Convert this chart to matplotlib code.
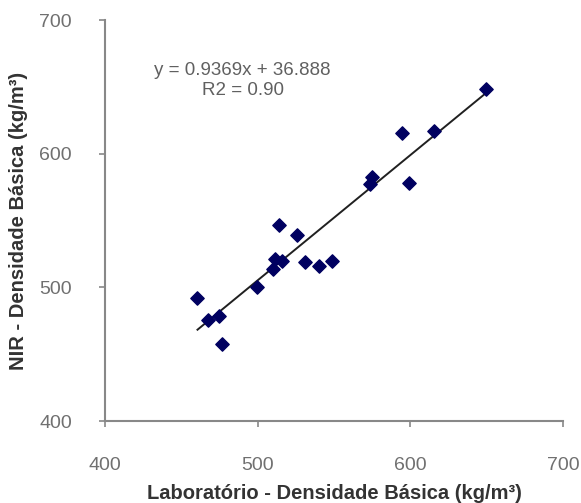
import numpy as np
import matplotlib
matplotlib.use("Agg")
import matplotlib.pyplot as plt

# valores (laboratório x NIR)
lab = [460.5, 467.7, 474.9, 476.5, 499.8, 510.3, 511.0, 513.6, 515.8,
       525.6, 531.0, 539.8, 548.6, 573.6, 574.8, 594.4, 598.8, 615.8, 649.7]
nir = [492.0, 475.3, 478.5, 457.8, 500.0, 514.0, 521.5, 546.4, 520.0,
       539.0, 519.0, 515.7, 519.7, 577.7, 582.6, 615.9, 578.0, 616.9, 648.3]

slope = 0.9369
intercept = 36.888
r2 = 0.90

ticks = [400, 500, 600, 700]

plt.rcParams['font.family'] = ['Liberation Sans', 'DejaVu Sans']

fig = plt.figure(figsize=(5.81, 5.03), dpi=100)
ax = fig.add_axes([0.181, 0.163, 0.788, 0.797])

# linha de tendência
xl = np.array([min(lab), max(lab)])
ax.plot(xl, slope * xl + intercept, color="#202020", lw=1.4, zorder=2)

ax.scatter(lab, nir, marker="D", s=46, color="#000060", zorder=3)

ax.set_xlim(400, 700)
ax.set_ylim(400, 700)
ax.set_xticks(ticks)
ax.set_yticks(ticks)

for s in ["top", "right"]:
    ax.spines[s].set_visible(False)
for s in ["left", "bottom"]:
    ax.spines[s].set_color("#888888")
    ax.spines[s].set_linewidth(1.5)

ax.tick_params(colors="#888888", labelcolor="#707070", labelsize=14,
               length=4, width=1.2, direction="out")
ax.tick_params(axis="x", pad=22)
ax.tick_params(axis="y", pad=20)

ax.set_xlabel("Laboratório - Densidade Básica (kg/m³)", fontsize=14.5,
              fontweight="bold", color="#333333", labelpad=7)
ax.set_ylabel("NIR - Densidade Básica (kg/m³)", fontsize=14.5,
              fontweight="bold", color="#333333", labelpad=8)

ax.text(0.30, 0.849, "y = 0.9369x + 36.888\nR2 = 0.90", transform=ax.transAxes,
        ha="center", va="center", fontsize=13.5, color="#606060",
        linespacing=1.2)

fig.savefig("out.png", dpi=100, facecolor="white")
